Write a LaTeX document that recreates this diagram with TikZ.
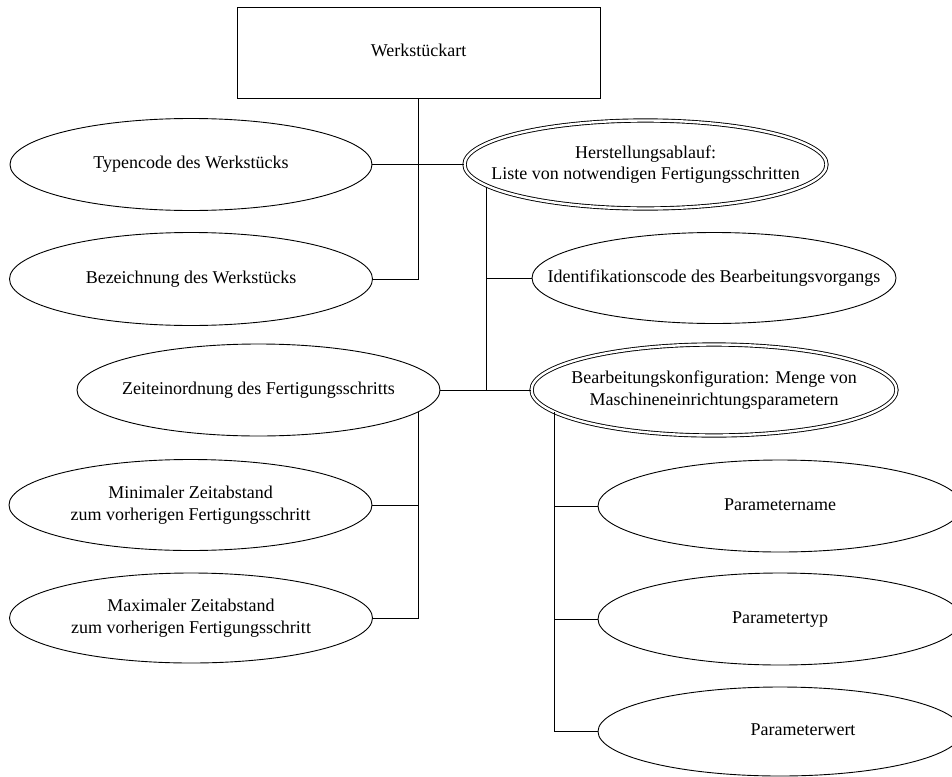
\documentclass[tikz,border=0pt]{standalone}
\usepackage{fontspec}
\setmainfont{Liberation Serif}
\usetikzlibrary{shapes.geometric}

% centred label of zero width, so the text never enlarges its shape
\newcommand{\lbl}[1]{\makebox[0pt][c]{\begin{tabular}{@{}c@{}}#1\end{tabular}}}

\tikzset{
  conn/.style={draw=black, line width=0.9pt},
  oval/.style={ellipse, draw=black, line width=0.9pt, inner sep=0pt,
               font=\fontsize{18}{21.6}\selectfont},
  dbloval/.style={oval, double, double distance=2.4pt},
  boxnode/.style={rectangle, draw=black, line width=0.9pt, inner sep=0pt,
                  font=\fontsize{18}{21.6}\selectfont}
}

\begin{document}
\begin{tikzpicture}[x=1pt, y=-1pt]
  \useasboundingbox (0,0) rectangle (952,776);
  \clip (0,0) rectangle (952,776);

  % top-level rectangle
  \node[boxnode, minimum width=363pt, minimum height=91pt] (art) at (418.5,52.5) {\lbl{Werkstückart}};

  % left column
  \node[oval, minimum width=362pt, minimum height=92pt] (typ) at (191,164.5) {\lbl{Typencode des Werkstücks}};
  \node[oval, minimum width=363pt, minimum height=93pt] (bez) at (191,279) {\lbl{Bezeichnung des Werkstücks}};
  \node[oval, minimum width=363pt, minimum height=92pt] (zeit) at (258.5,390) {\lbl{Zeiteinordnung des Fertigungsschritts}};
  \node[oval, minimum width=363pt, minimum height=91pt] (mini) at (190.5,505) {\lbl{Minimaler Zeitabstand\\zum vorherigen Fertigungsschritt}};
  \node[oval, minimum width=363pt, minimum height=90pt] (maxi) at (191,618) {\lbl{Maximaler Zeitabstand\\zum vorherigen Fertigungsschritt}};

  % right column
  \node[dbloval, minimum width=362pt, minimum height=88pt] (herst) at (645.5,164.5) {\lbl{Herstellungsablauf:\\Liste von notwendigen Fertigungsschritten}};
  \node[oval, minimum width=364pt, minimum height=91pt] (ident) at (714,278) {\lbl{Identifikationscode des Bearbeitungsvorgangs}};
  \node[dbloval, minimum width=365pt, minimum height=91pt] (bearb) at (714,390) {\lbl{Bearbeitungskonfiguration: Menge von\\Maschineneinrichtungsparametern}};
  \node[oval, minimum width=364pt, minimum height=92pt] (pname) at (780,506) {\lbl{Parametername}};
  \node[oval, minimum width=364pt, minimum height=92pt] (ptyp) at (780,619) {\lbl{Parametertyp}};
  \node[oval, minimum width=364pt, minimum height=89pt] (pwert) at (780,731.5) {\lbl{\hspace*{46pt}Parameterwert}};

  % junction points of the branch lines
  \coordinate (j1) at (486,390);
  \coordinate (j2) at (418,618);
  \coordinate (j3) at (554,731.5);

  % Werkstückart branch
  \draw[conn] (art.south) |- (bez.east);
  \draw[conn] (typ.east) -- (herst.west);

  % Herstellungsablauf branch
  \draw[conn] (j1 |- herst.188) -- (j1);
  \draw[conn] (ident.west) -- (ident.west -| j1);
  \draw[conn] (zeit.east) -- (bearb.west);

  % Zeiteinordnung branch
  \draw[conn] (j2 |- zeit.352.2) -- (j2) -- (maxi.east);
  \draw[conn] (mini.east) -- (mini.east -| j2);

  % Bearbeitungskonfiguration branch
  \draw[conn] (j3 |- bearb.188.3) -- (j3) -- (pwert.west);
  \draw[conn] (pname.west) -- (pname.west -| j3);
  \draw[conn] (ptyp.west) -- (ptyp.west -| j3);
\end{tikzpicture}
\end{document}
